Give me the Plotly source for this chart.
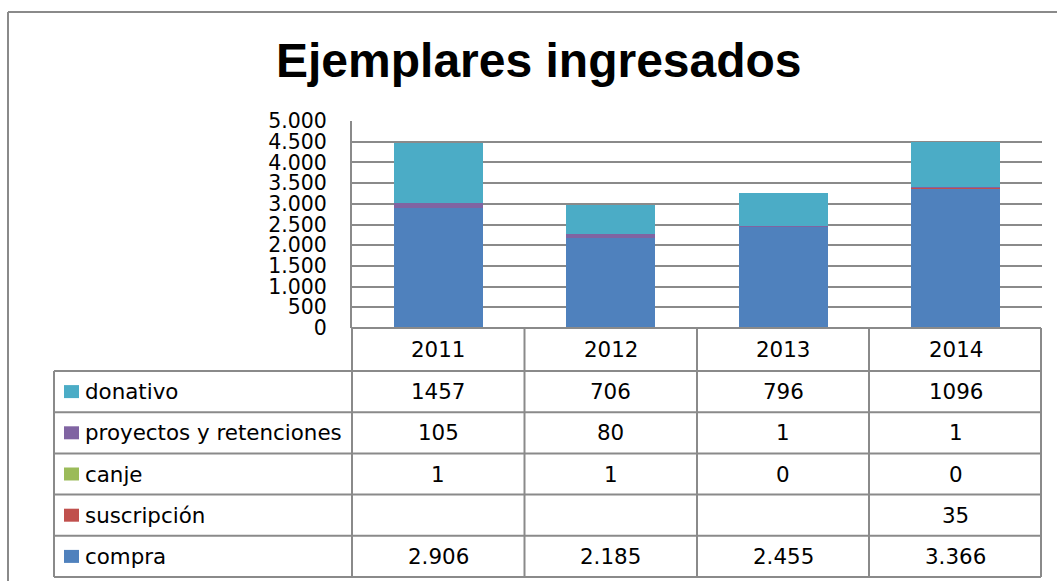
import plotly.graph_objects as go

# ---------------- data ----------------
years = ["2011", "2012", "2013", "2014"]
compra = [2906, 2185, 2455, 3366]
suscripcion = [None, None, None, 35]
canje = [1, 1, 0, 0]
proyectos = [105, 80, 1, 1]
donativo = [1457, 706, 796, 1096]
y_ticks = [0, 500, 1000, 1500, 2000, 2500, 3000, 3500, 4000, 4500, 5000]
title_text = "Ejemplares ingresados"

# ---------------- styling ----------------
C_COMPRA = "#4F81BD"
C_SUSC = "#C0504D"
C_CANJE = "#9BBB59"
C_PROY = "#8064A2"
C_DON = "#4BACC6"
GRID = "#8a8a8a"
FONT = "DejaVu Sans"
FS = 21.4
FS_TICK = 20.5

W, H = 1057, 581
L, R, T, B = 352, 1042, 121, 328


def px(x):
    return (x - L) / (R - L)


def py(y):
    return (B - y) / (B - T)


fig = go.Figure()
series = [
    ("compra", compra, C_COMPRA),
    ("suscripción", suscripcion, C_SUSC),
    ("canje", canje, C_CANJE),
    ("proyectos y retenciones", proyectos, C_PROY),
    ("donativo", donativo, C_DON),
]
for name, vals, col in series:
    fig.add_trace(go.Bar(x=years, y=vals, name=name, marker_color=col,
                         marker_line_width=0, showlegend=False))

shapes = []
line = dict(color=GRID, width=2)
# outer chart frame (left and top visible)
shapes.append(dict(type="line", xref="paper", yref="paper", x0=px(8), x1=px(8), y0=py(584), y1=py(12), line=line))
shapes.append(dict(type="line", xref="paper", yref="paper", x0=px(8), x1=px(1060), y0=py(12), y1=py(12), line=line))

# data table grid
row_lines = [371, 412.2, 453.4, 494.6, 535.8, 577]
col_lines = [352, 524.5, 697, 869, 1041]
shapes.append(dict(type="line", xref="paper", yref="paper", x0=px(352), x1=px(1041), y0=py(B), y1=py(B), line=line))
for yy in row_lines:
    shapes.append(dict(type="line", xref="paper", yref="paper", x0=px(54), x1=px(1041), y0=py(yy), y1=py(yy), line=line))
shapes.append(dict(type="line", xref="paper", yref="paper", x0=px(54), x1=px(54), y0=py(371), y1=py(577), line=line))
for xx in col_lines:
    shapes.append(dict(type="line", xref="paper", yref="paper", x0=px(xx), x1=px(xx), y0=py(B), y1=py(577), line=line))

annotations = []
# title
annotations.append(dict(text=title_text, xref="paper", yref="paper", x=px(539), y=py(60),
                        xanchor="center", yanchor="middle", showarrow=False,
                        font=dict(family="Liberation Sans", size=48, color="black", weight="bold")))

# header row (years) -- category positions by index
for ci, yr in enumerate(years):
    annotations.append(dict(text=yr, xref="x", yref="paper", x=ci, y=py(349.5),
                            xanchor="center", yanchor="middle", showarrow=False,
                            font=dict(family=FONT, size=FS, color="black")))


def fmt(v, thousands):
    if v is None:
        return ""
    if thousands:
        return f"{v:,}".replace(",", ".")
    return str(v)


table_rows = [
    ("donativo", donativo, C_DON, False),
    ("proyectos y retenciones", proyectos, C_PROY, False),
    ("canje", canje, C_CANJE, False),
    ("suscripción", suscripcion, C_SUSC, False),
    ("compra", compra, C_COMPRA, True),
]
for i, (name, vals, col, th) in enumerate(table_rows):
    top = row_lines[i]
    bot = row_lines[i + 1]
    cy = (top + bot) / 2
    shapes.append(dict(type="rect", xref="paper", yref="paper", x0=px(64), x1=px(79),
                       y0=py(cy - 6.5), y1=py(cy + 6.5), fillcolor=col, line=dict(width=0)))
    annotations.append(dict(text=name, xref="paper", yref="paper", x=px(83), y=py(cy),
                            xanchor="left", yanchor="middle", showarrow=False,
                            font=dict(family=FONT, size=FS, color="black")))
    for ci, v in enumerate(vals):
        annotations.append(dict(text=fmt(v, th), xref="x", yref="paper", x=ci, y=py(cy),
                                xanchor="center", yanchor="middle", showarrow=False,
                                font=dict(family=FONT, size=FS, color="black")))

fig.update_layout(
    width=W, height=H,
    margin=dict(l=L, r=W - R, t=T, b=H - B, pad=0),
    paper_bgcolor="white", plot_bgcolor="white",
    barmode="stack", bargap=0.484,
    separators=",.",
    shapes=shapes, annotations=annotations,
    xaxis=dict(type="category", range=[-0.5, 3.5], showticklabels=False, showgrid=False,
               zeroline=False, showline=False, fixedrange=True),
    yaxis=dict(range=[0, 5000], tickvals=y_ticks, tickformat=",d", showgrid=True,
               gridcolor=GRID, gridwidth=2, zeroline=False, showline=True, linecolor=GRID,
               linewidth=2, ticks="outside", ticklen=19, tickcolor="rgba(0,0,0,0)",
               tickfont=dict(family=FONT, size=FS_TICK, color="black"), fixedrange=True),
)

fig.write_html("out.html", config={"displayModeBar": False},
               post_script="document.body.style.margin='0px';document.body.style.overflow='hidden';")
